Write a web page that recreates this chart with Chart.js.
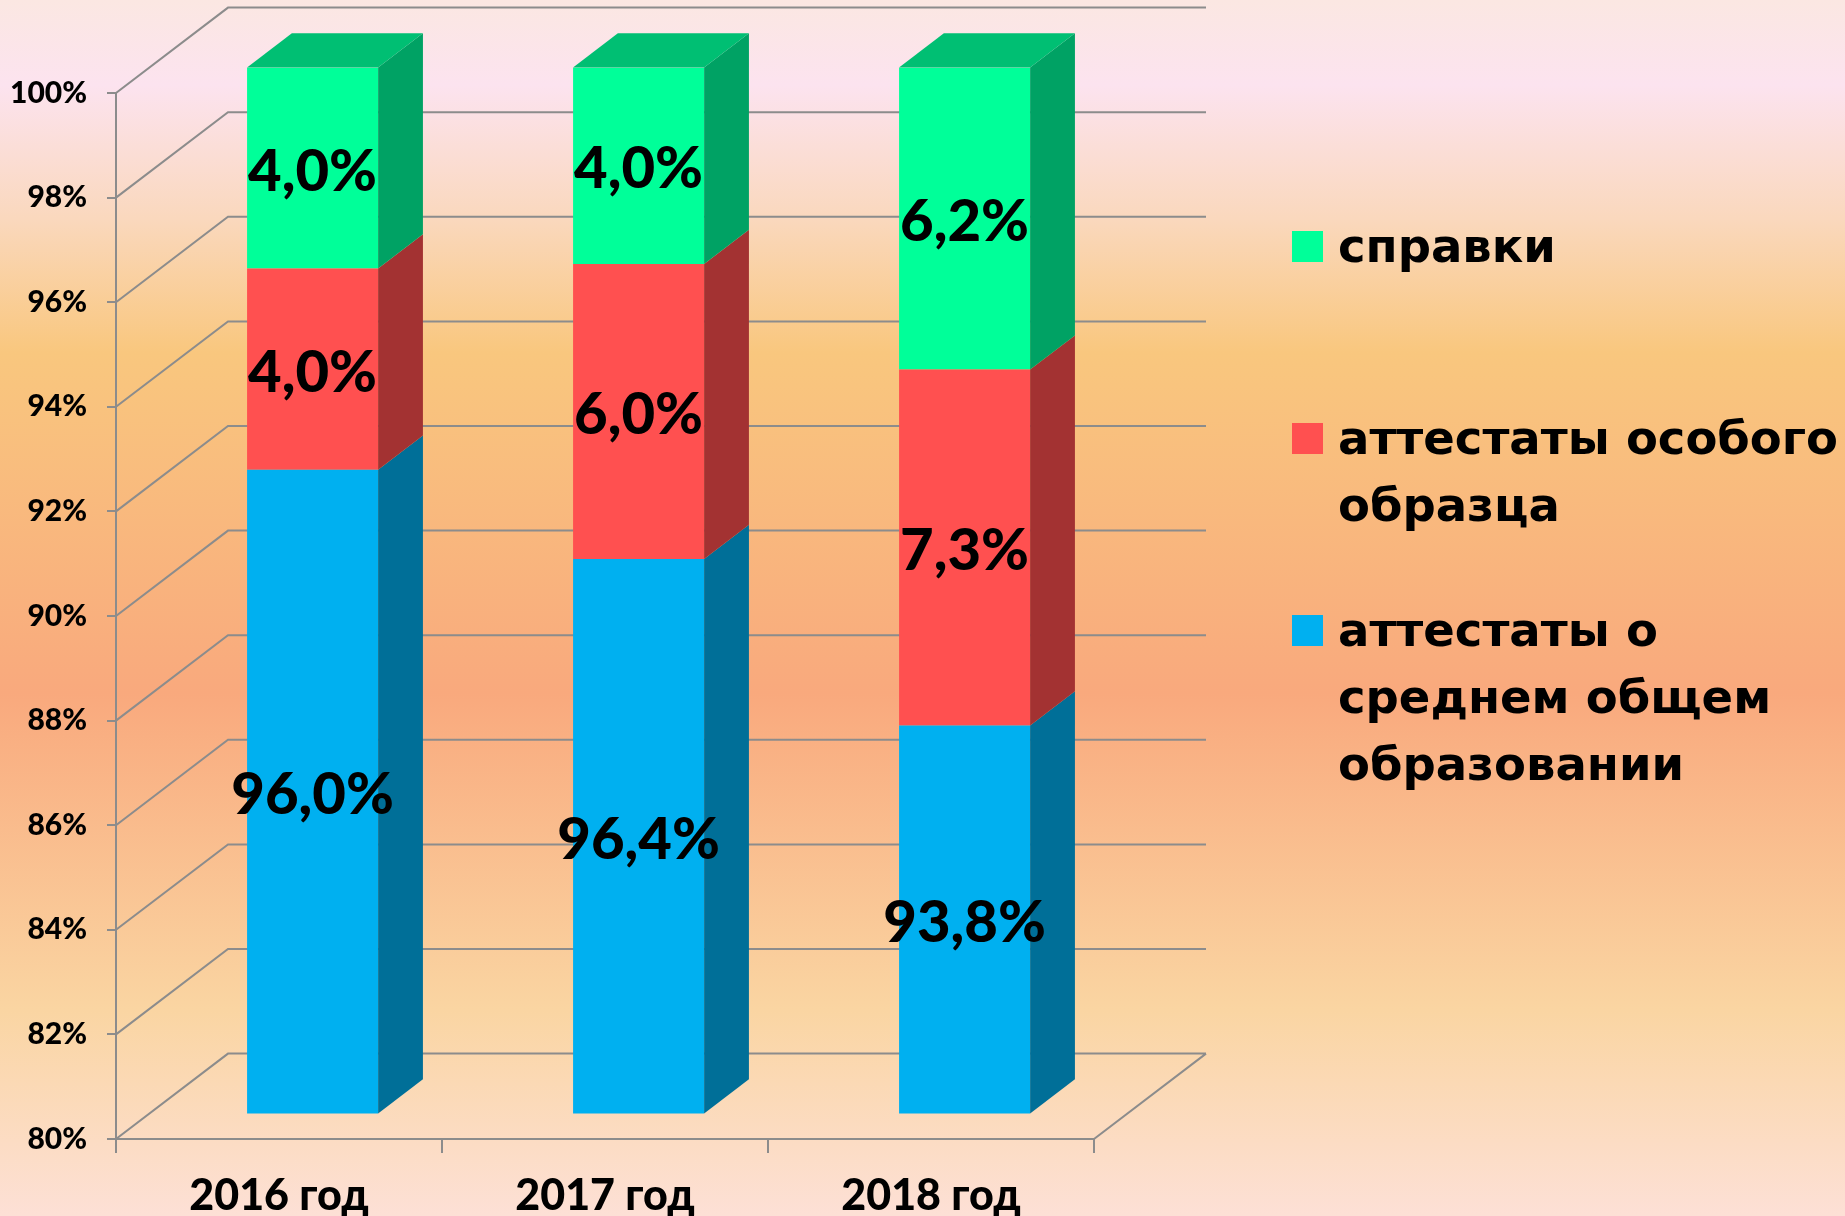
<!DOCTYPE html>
<html>
<head>
<meta charset="utf-8">
<title>Выпускники 2016-2018</title>
<script src="https://cdn.jsdelivr.net/npm/chart.js@4"></script>
<style>
  html, body { margin: 0; padding: 0; background: #fce0d6; }
  canvas { display: block; }
</style>
</head>
<body>
<canvas id="chart" width="1845" height="1216"></canvas>
<script>
// данные
const years = ['2016 год', '2017 год', '2018 год'];
const attestaty = [96.0, 96.4, 93.8];
const osobogo = [4.0, 6.0, 7.3];
const spravki = [4.0, 4.0, 6.2];

const seriesNames = [
    ['аттестаты о', 'среднем общем', 'образовании'],
    ['аттестаты особого', 'образца'],
    ['справки']
];
const frontColors = ['#00B0F0', '#FF5050', '#00FF99'];
const sideColors = ['#006F98', '#A33232', '#00A264'];
const topColor = '#00BF73';

const yMin = 80, yMax = 100, yStep = 2;

const FONT = '"Lato", "DejaVu Sans", sans-serif';
const LEGEND_FONT = '"DejaVu Sans", sans-serif';
const GRID = '#8c8c8c';

// глубина 3D
const wall = { dx: 112, dy: -85.4 };
const barFront = 0.30, barBack = 0.70;

const totals = years.map((y, i) => attestaty[i] + osobogo[i] + spravki[i]);
const share = arr => arr.map((v, i) => v / totals[i] * 100);
const raw = [attestaty, osobogo, spravki];

const fmt = v => v.toFixed(1).replace('.', ',') + '%';

const background = {
    id: 'background',
    beforeDraw(chart) {
        const { ctx, width, height } = chart;
        const g = ctx.createLinearGradient(0, 0, 0, height);
        g.addColorStop(0, '#fbe7e2');
        g.addColorStop(0.07, '#fce3ef');
        g.addColorStop(0.18, '#fad8bd');
        g.addColorStop(0.29, '#f9c77e');
        g.addColorStop(0.57, '#f9a97d');
        g.addColorStop(0.83, '#fad5a2');
        g.addColorStop(1, '#fde0d6');
        ctx.save();
        ctx.fillStyle = g;
        ctx.fillRect(0, 0, width, height);
        ctx.restore();
    }
};

const bars3d = {
    id: 'bars3d',
    beforeDatasetsDraw(chart) {
        const { ctx, chartArea: a, scales: { y } } = chart;
        ctx.save();
        ctx.strokeStyle = GRID;
        ctx.lineWidth = 2;
        ctx.beginPath();
        for (let v = yMin; v <= yMax; v += yStep) {
            const py = y.getPixelForValue(v);
            ctx.moveTo(a.left, py);
            ctx.lineTo(a.left + wall.dx, py + wall.dy);
            ctx.lineTo(a.right + wall.dx, py + wall.dy);
        }
        ctx.moveTo(a.right, a.bottom);
        ctx.lineTo(a.right + wall.dx, a.bottom + wall.dy);
        ctx.stroke();
        ctx.restore();

        ctx.save();
        ctx.translate(wall.dx * barFront, wall.dy * barFront);
    },
    afterDatasetsDraw(chart) {
        const { ctx, chartArea: a } = chart;
        const bx = wall.dx * (barBack - barFront);
        const by = wall.dy * (barBack - barFront);
        const n = chart.data.datasets.length;
        const labels = [];
        chart.data.datasets.forEach((ds, di) => {
            chart.getDatasetMeta(di).data.forEach((bar, i) => {
                const p = bar.getProps(['x', 'y', 'base', 'width'], true);
                const r = p.x + p.width / 2;
                const l = p.x - p.width / 2;
                const top = Math.max(p.y, a.top);
                const base = Math.min(p.base, a.bottom);
                ctx.fillStyle = sideColors[di];
                ctx.beginPath();
                ctx.moveTo(r, top);
                ctx.lineTo(r + bx, top + by);
                ctx.lineTo(r + bx, base + by);
                ctx.lineTo(r, base);
                ctx.closePath();
                ctx.fill();
                if (di === n - 1) {
                    ctx.fillStyle = topColor;
                    ctx.beginPath();
                    ctx.moveTo(l, top);
                    ctx.lineTo(l + bx, top + by);
                    ctx.lineTo(r + bx, top + by);
                    ctx.lineTo(r, top);
                    ctx.closePath();
                    ctx.fill();
                }
                labels.push({ x: p.x, y: (top + base) / 2, text: fmt(raw[di][i]) });
            });
        });
        ctx.fillStyle = '#000';
        ctx.font = '900 58px ' + FONT;
        ctx.textAlign = 'center';
        ctx.textBaseline = 'middle';
        labels.forEach(t => ctx.fillText(t.text, t.x, t.y + 4));
        ctx.restore();
    }
};

const legend = {
    id: 'sideLegend',
    afterDraw(chart) {
        const ctx = chart.ctx;
        const boxX = 1292, box = 31, textX = 1338, lineH = 67;
        const tops = [615, 423, 231];
        ctx.save();
        ctx.font = 'bold 46.5px ' + LEGEND_FONT;
        ctx.textAlign = 'left';
        ctx.textBaseline = 'alphabetic';
        seriesNames.forEach((lines, di) => {
            const t = tops[di];
            ctx.fillStyle = frontColors[di];
            ctx.fillRect(boxX, t, box, box);
            ctx.fillStyle = '#000';
            lines.forEach((s, k) => ctx.fillText(s, textX, t + box + k * lineH));
        });
        ctx.restore();
    }
};

new Chart(document.getElementById('chart'), {
    type: 'bar',
    data: {
        labels: years,
        datasets: [attestaty, osobogo, spravki].map((arr, di) => ({
            label: seriesNames[di].join(' '),
            data: share(arr),
            backgroundColor: frontColors[di],
            borderWidth: 0,
            barPercentage: 0.402,
            categoryPercentage: 1
        }))
    },
    options: {
        responsive: false,
        animation: false,
        layout: { padding: { left: 0, top: 93, right: 751, bottom: 0 } },
        plugins: {
            legend: { display: false },
            tooltip: { enabled: false }
        },
        scales: {
            x: {
                stacked: true,
                afterFit: s => { s.height = 77; },
                grid: { drawOnChartArea: false, drawTicks: true, tickLength: 14, color: GRID, lineWidth: 2, offset: true },
                border: { display: true, color: GRID, width: 2 },
                ticks: { color: '#000', padding: 17, font: { family: FONT, size: 43, weight: '900' } }
            },
            y: {
                stacked: true,
                min: yMin,
                max: yMax,
                afterFit: s => { s.width = 116; },
                grid: { drawOnChartArea: false, drawTicks: true, tickLength: 9, color: GRID, lineWidth: 2 },
                border: { display: true, color: GRID, width: 2 },
                ticks: {
                    stepSize: yStep,
                    padding: 20,
                    color: '#000',
                    font: { family: FONT, size: 30, weight: '900' },
                    callback: v => v + '%'
                }
            }
        }
    },
    plugins: [background, bars3d, legend]
});
</script>
</body>
</html>
